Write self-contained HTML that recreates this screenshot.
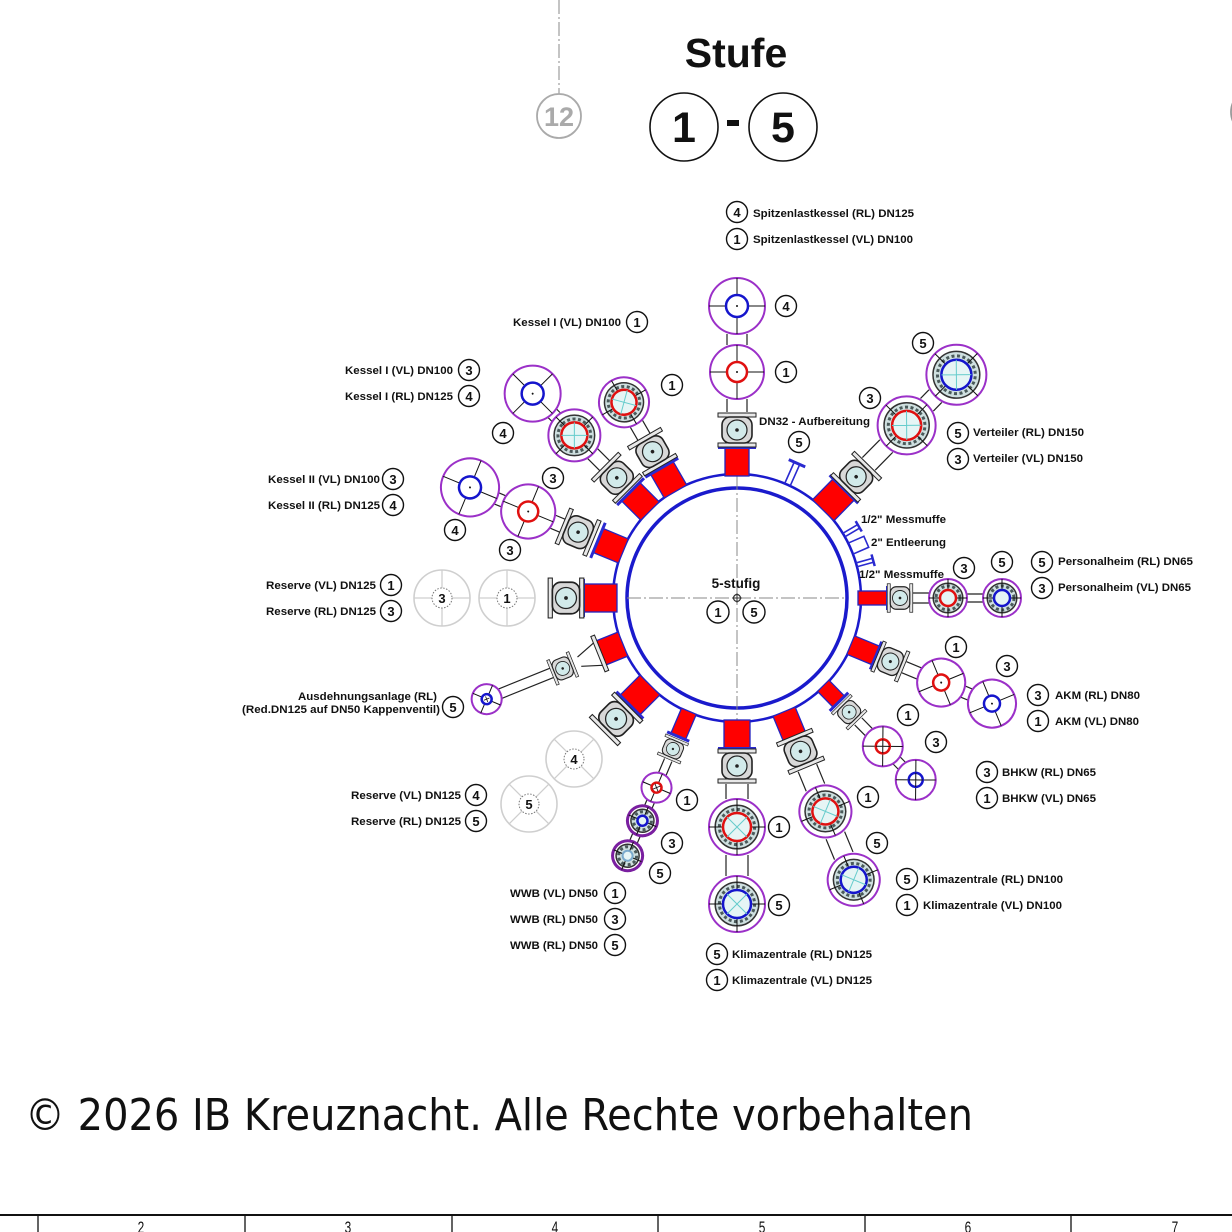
<!DOCTYPE html>
<html><head><meta charset="utf-8">
<style>
html,body{margin:0;padding:0;background:#fff;}
svg{display:block;}
.t{font-family:"Liberation Sans",Arial,sans-serif;font-weight:bold;font-size:11px;fill:#111;}
.n{font-family:"Liberation Sans",Arial,sans-serif;font-weight:bold;font-size:13px;fill:#111;text-anchor:middle;}
.lc{fill:#fff;stroke:#111;stroke-width:1.4;}
.nz{fill:#ff0000;stroke:#2323c0;stroke-width:1.3;}
.fl{fill:#2a2ad0;}
.pp{stroke:#222;stroke-width:1.2;fill:none;}
.pc{fill:#fff;stroke:#9b30c8;stroke-width:2;}
.ch{stroke:#111;stroke-width:1;fill:none;}
.rr{fill:#fff;stroke:#e01010;stroke-width:2.5;}
.rb{fill:#fff;stroke:#1515cc;stroke-width:2.5;}
.fg{fill:#cfe0e0;stroke:#333;stroke-width:1.5;}
.fb{fill:none;stroke:#4a5a5a;stroke-width:3;stroke-dasharray:3 2.5;}
.ir{fill:#e6f5f5;stroke:#e01010;stroke-width:2.5;}
.ib{fill:#e6f5f5;stroke:#1515cc;stroke-width:2.5;}
.cx{stroke:#6cc;stroke-width:1;fill:none;}
.gc{fill:#fff;stroke:#cfcfcf;stroke-width:1.6;}
.gl{stroke:#cfcfcf;stroke-width:1.3;fill:none;}
.gd{fill:#fff;stroke:#777;stroke-width:1;stroke-dasharray:1.5 1.5;}
.dd{stroke:#888;stroke-width:1;stroke-dasharray:14 3 2 3;fill:none;}
.st{stroke:#2a2ad0;stroke-width:1.6;fill:none;}
</style></head><body>
<svg width="1232" height="1232" viewBox="0 0 1232 1232" xmlns="http://www.w3.org/2000/svg">
<defs>
 <g id="v">
  <rect x="-17" y="-19" width="4" height="38" fill="#e8e8e8" stroke="#222" stroke-width="1"/>
  <rect x="13" y="-19" width="4" height="38" fill="#e8e8e8" stroke="#222" stroke-width="1"/>
  <rect x="-13" y="-15" width="26" height="30" rx="8" fill="#d8d8d8" stroke="#222" stroke-width="1.6"/>
  <circle r="10" fill="#d2eaea" stroke="#222" stroke-width="1.2"/>
  <circle r="1.8" fill="#222"/>
 </g>
</defs>

<!-- top decorations -->
<path d="M559 0V94" class="dd"/>
<circle cx="559" cy="116" r="22" fill="none" stroke="#aaa" stroke-width="1.8"/>
<text x="559" y="126" text-anchor="middle" font-family="Liberation Sans, Arial, sans-serif" font-weight="bold" font-size="27" fill="#aaa">12</text>
<circle cx="1254" cy="112" r="23" fill="none" stroke="#999" stroke-width="1.8"/>

<text x="736" y="67" text-anchor="middle" font-family="Liberation Sans, Arial, sans-serif" font-weight="bold" font-size="41" fill="#111">Stufe</text>
<circle cx="684" cy="127" r="34" fill="none" stroke="#111" stroke-width="1.6"/>
<text x="684" y="142" text-anchor="middle" font-family="Liberation Sans, Arial, sans-serif" font-weight="bold" font-size="43" fill="#111">1</text>
<rect x="727" y="120" width="12" height="6" fill="#111"/>
<circle cx="783" cy="127" r="34" fill="none" stroke="#111" stroke-width="1.6"/>
<text x="783" y="142" text-anchor="middle" font-family="Liberation Sans, Arial, sans-serif" font-weight="bold" font-size="43" fill="#111">5</text>

<!-- main ring -->
<circle cx="737" cy="598" r="124" fill="#fff" stroke="#1a1acc" stroke-width="2.5"/>
<circle cx="737" cy="598" r="110" fill="#fff" stroke="#1a1acc" stroke-width="3.5"/>
<path d="M627 598H847" class="dd"/>
<path d="M737 476V722" class="dd"/>
<circle cx="737" cy="598" r="3.5" fill="none" stroke="#333" stroke-width="1.2"/>
<path d="M732 598H742M737 593V603" stroke="#333" stroke-width="1"/>
<text x="736" y="588" text-anchor="middle" font-family="Liberation Sans, Arial, sans-serif" font-weight="bold" font-size="13.5" fill="#111">5-stufig</text>
<circle cx="718" cy="612" r="11" class="lc"/><text class="n" x="718" y="617">1</text>
<circle cx="754" cy="612" r="11" class="lc"/><text class="n" x="754" y="617">5</text>

<!-- A: Spitzenlastkessel (top) -->
<g transform="translate(737 598) rotate(-90)">
 <rect x="122" y="-12" width="28" height="24" class="nz"/>
 <rect x="149" y="-19" width="3" height="38" class="fl"/>
 <use href="#v" x="168"/>
 <path d="M186 -10H199M186 10H199M253 -10H264M253 10H264" class="pp"/>
 <circle cx="226" r="27" class="pc"/>
 <path d="M199 0H253M226 -27V27" class="ch"/>
 <circle cx="226" r="10" class="rr"/><circle cx="226" r="1" fill="#111"/>
 <circle cx="292" r="28" class="pc"/>
 <path d="M264 0H320M292 -28V28" class="ch"/>
 <circle cx="292" r="11" class="rb"/><circle cx="292" r="1" fill="#111"/>
</g>

<!-- DN32 stub -->
<g transform="translate(737 598) rotate(-66)">
 <path d="M124 -3H147M124 3H147" class="st"/>
 <rect x="146" y="-9" width="3" height="18" class="fl"/>
</g>
<!-- Messmuffe / Entleerung -->
<g transform="translate(737 598) rotate(-30.5)">
 <path d="M124 -2H141M124 2H141" class="st"/>
 <rect x="140" y="-6" width="2.5" height="12" class="fl"/>
</g>
<g transform="translate(737 598) rotate(-23.5)">
 <path d="M124 -6H141V6H124" class="st"/>
</g>
<g transform="translate(737 598) rotate(-15.5)">
 <path d="M124 -2H141M124 2H141" class="st"/>
 <rect x="140" y="-6" width="2.5" height="12" class="fl"/>
</g>

<!-- B: Kessel I VL 1 -->
<g transform="translate(737 598) rotate(-120)">
 <rect x="123" y="-13" width="27" height="26" class="nz"/>
 <rect x="149" y="-19" width="3" height="38" class="fl"/>
 <use href="#v" x="169"/>
 <path d="M186 -7H201M186 7H201" class="pp"/>
 <circle cx="226" r="25" class="pc"/>
 <circle cx="226" r="19.5" class="fg"/>
 <circle cx="226" r="15.8" class="fb"/>
 <path d="M201 0H251M226 -25V25" class="ch"/>
 <circle cx="226" r="12.5" class="ir"/>
 <path d="M217.2 -8.8L234.8 8.8M217.2 8.8L234.8 -8.8" class="cx"/>
</g>

<!-- C: Kessel I 3/4 -->
<g transform="translate(737 598) rotate(-135)">
 <rect x="123" y="-13" width="27" height="26" class="nz"/>
 <rect x="149" y="-19" width="3" height="38" class="fl"/>
 <use href="#v" x="170"/>
 <path d="M187 -7H204M187 7H204M256 -6H261M256 6H261" class="pp"/>
 <circle cx="230" r="26" class="pc"/>
 <circle cx="230" r="20.3" class="fg"/>
 <circle cx="230" r="16.4" class="fb"/>
 <path d="M204 0H256M230 -26V26" class="ch"/>
 <circle cx="230" r="13" class="ir"/>
 <path d="M220.8 -9.2L239.2 9.2M220.8 9.2L239.2 -9.2" class="cx"/>
 <circle cx="289" r="28" class="pc"/>
 <path d="M261 0H317M289 -28V28" class="ch"/>
 <circle cx="289" r="11" class="rb"/><circle cx="289" r="1" fill="#111"/>
</g>

<!-- D: Kessel II -->
<g transform="translate(737 598) rotate(-157.5)">
 <rect x="123" y="-13" width="27" height="26" class="nz"/>
 <rect x="149" y="-19" width="3" height="38" class="fl"/>
 <use href="#v" x="172"/>
 <path d="M189 -7H199M189 7H199M253 -6H260M253 6H260" class="pp"/>
 <circle cx="226" r="27" class="pc"/>
 <path d="M199 0H253M226 -27V27" class="ch"/>
 <circle cx="226" r="10" class="rr"/><circle cx="226" r="1" fill="#111"/>
 <circle cx="289" r="29" class="pc"/>
 <path d="M260 0H318M289 -29V29" class="ch"/>
 <circle cx="289" r="11" class="rb"/><circle cx="289" r="1" fill="#111"/>
</g>

<!-- E: Reserve (left horizontal) -->
<g transform="translate(737 598) rotate(180)">
 <rect x="120" y="-14" width="34" height="28" class="nz"/>
 <rect x="152" y="-19" width="3" height="38" class="fl"/>
 <use href="#v" transform="translate(171 0) scale(1.05)"/>
</g>

<!-- F: Ausdehnungsanlage -->
<g transform="translate(737 598) rotate(158)">
 <rect x="123" y="-13" width="24" height="26" class="nz"/>
 <rect x="146" y="-19" width="4" height="38" fill="#e8e8e8" stroke="#222" stroke-width="1"/>
 <path d="M150 -12L170 -5M150 12L170 5" class="pp"/>
 <use href="#v" transform="translate(188 0) scale(0.7)"/>
 <path d="M200 -5H255M200 5H255" class="pp"/>
 <circle cx="270" r="15" class="pc"/>
 <path d="M259.4 -10.6L280.6 10.6M259.4 10.6L280.6 -10.6" class="ch"/>
 <circle cx="270" r="5" class="rb"/>
 <path d="M267 0H273M270 -3V3" stroke="#111" stroke-width="0.8"/>
</g>

<!-- G: lower-left reserve valve -->
<g transform="translate(737 598) rotate(135)">
 <rect x="123" y="-14" width="28" height="28" class="nz"/>
 <rect x="150" y="-19" width="3" height="38" class="fl"/>
 <use href="#v" transform="translate(171 0) scale(1.05)"/>
</g>

<!-- H: WWB -->
<g transform="translate(737 598) rotate(113)">
 <rect x="123" y="-8" width="27" height="16" class="nz"/>
 <rect x="149" y="-12" width="3" height="24" class="fl"/>
 <use href="#v" transform="translate(164 0) scale(0.65)"/>
 <path d="M176 -4H191M176 4H191M221 -4H227M221 4H227M257 -4H265M257 4H265" class="pp"/>
 <circle cx="206" r="15" class="pc"/>
 <path d="M191 0H221M206 -15V15" class="ch"/>
 <circle cx="206" r="5" class="rr"/>
 <path d="M203 -3L209 3M203 3L209 -3" stroke="#111" stroke-width="0.8"/>
 <circle cx="242" r="15" fill="#fff" stroke="#7a1fa0" stroke-width="3"/>
 <circle cx="242" r="11.5" class="fg"/>
 <circle cx="242" r="9" class="fb"/>
 <path d="M227 0H257M242 -15V15" class="ch"/>
 <circle cx="242" r="5" class="ib"/>
 <circle cx="280" r="15" fill="#fff" stroke="#7a1fa0" stroke-width="3"/>
 <circle cx="280" r="11.5" class="fg"/>
 <circle cx="280" r="9" class="fb"/>
 <path d="M265 0H295M280 -15V15" class="ch"/>
 <circle cx="280" r="5" fill="#e6f5f5" stroke="#7aaacc" stroke-width="2"/>
</g>

<!-- I: Klimazentrale DN125 (bottom) -->
<g transform="translate(737 598) rotate(90)">
 <rect x="122" y="-13" width="28" height="26" class="nz"/>
 <rect x="149" y="-19" width="3" height="38" class="fl"/>
 <use href="#v" x="168"/>
 <path d="M186 -11H201M186 11H201M257 -11H278M257 11H278" class="pp"/>
 <circle cx="229" r="28" class="pc"/>
 <circle cx="229" r="21.8" class="fg"/>
 <circle cx="229" r="17.6" class="fb"/>
 <path d="M201 0H257M229 -28V28" class="ch"/>
 <circle cx="229" r="14" class="ir"/>
 <path d="M219.1 -9.9L238.9 9.9M219.1 9.9L238.9 -9.9" class="cx"/>
 <circle cx="306" r="28" class="pc"/>
 <circle cx="306" r="21.8" class="fg"/>
 <circle cx="306" r="17.6" class="fb"/>
 <path d="M278 0H334M306 -28V28" class="ch"/>
 <circle cx="306" r="14" class="ib"/>
 <path d="M296.1 -9.9L315.9 9.9M296.1 9.9L315.9 -9.9" class="cx"/>
</g>

<!-- J: Klimazentrale DN100 -->
<g transform="translate(737 598) rotate(67.5)">
 <rect x="123" y="-12" width="27" height="24" class="nz"/>
 <rect x="149" y="-18" width="3" height="36" class="fl"/>
 <use href="#v" x="166"/>
 <path d="M184 -10H205M184 10H205M257 -10H279M257 10H279" class="pp"/>
 <circle cx="231" r="26" class="pc"/>
 <circle cx="231" r="20.3" class="fg"/>
 <circle cx="231" r="16.4" class="fb"/>
 <path d="M205 0H257M231 -26V26" class="ch"/>
 <circle cx="231" r="13" class="ir"/>
 <path d="M221.8 -9.2L240.2 9.2M221.8 9.2L240.2 -9.2" class="cx"/>
 <circle cx="305" r="26" class="pc"/>
 <circle cx="305" r="20.3" class="fg"/>
 <circle cx="305" r="16.4" class="fb"/>
 <path d="M279 0H331M305 -26V26" class="ch"/>
 <circle cx="305" r="13" class="ib"/>
 <path d="M295.8 -9.2L314.2 9.2M295.8 9.2L314.2 -9.2" class="cx"/>
</g>

<!-- K: BHKW -->
<g transform="translate(737 598) rotate(45.5)">
 <rect x="123" y="-8" width="22" height="16" class="nz"/>
 <rect x="144" y="-13" width="3" height="26" class="fl"/>
 <use href="#v" transform="translate(160 0) scale(0.7)"/>
 <path d="M173 -5H188M173 5H188M228 -5H235M228 5H235" class="pp"/>
 <circle cx="208" r="20" class="pc"/>
 <path d="M193.9 -14.1L222.1 14.1M193.9 14.1L222.1 -14.1" class="ch"/>
 <circle cx="208" r="7" class="rr"/>
 <path d="M203 -5L213 5M203 5L213 -5" stroke="#111" stroke-width="1"/>
 <circle cx="255" r="20" class="pc"/>
 <path d="M240.9 -14.1L269.1 14.1M240.9 14.1L269.1 -14.1" class="ch"/>
 <circle cx="255" r="7" class="rb"/>
 <path d="M250 -5L260 5M250 5L260 -5" stroke="#111" stroke-width="1"/>
</g>

<!-- L: AKM -->
<g transform="translate(737 598) rotate(22.5)">
 <rect x="123" y="-10" width="27" height="20" class="nz"/>
 <rect x="149" y="-15" width="3" height="30" class="fl"/>
 <use href="#v" transform="translate(166 0) scale(0.85)"/>
 <path d="M181 -6H197M181 6H197M245 -6H252M245 6H252" class="pp"/>
 <circle cx="221" r="24" class="pc"/>
 <path d="M204 -17L238 17M204 17L238 -17" class="ch"/>
 <circle cx="221" r="8" class="rr"/><circle cx="221" r="1" fill="#111"/>
 <circle cx="276" r="24" class="pc"/>
 <path d="M259 -17L293 17M259 17L293 -17" class="ch"/>
 <circle cx="276" r="8" class="rb"/><circle cx="276" r="1" fill="#111"/>
</g>

<!-- M: Personalheim -->
<g transform="translate(737 598)">
 <rect x="121" y="-7" width="29" height="14" class="nz"/>
 <rect x="149" y="-12" width="3" height="24" class="fl"/>
 <use href="#v" transform="translate(163 0) scale(0.75)"/>
 <path d="M176 -5H192M176 5H192M230 -4H246M230 4H246" class="pp"/>
 <circle cx="211" r="19" class="pc"/>
 <circle cx="211" r="14.8" class="fg"/>
 <circle cx="211" r="12" class="fb"/>
 <path d="M192 0H230M211 -19V19" class="ch"/>
 <circle cx="211" r="8" class="ir"/>
 <circle cx="265" r="19" class="pc"/>
 <circle cx="265" r="14.8" class="fg"/>
 <circle cx="265" r="12" class="fb"/>
 <path d="M246 0H284M265 -19V19" class="ch"/>
 <circle cx="265" r="8" class="ib"/>
</g>

<!-- N: Verteiler -->
<g transform="translate(737 598) rotate(-45.5)">
 <rect x="123" y="-15" width="29" height="30" class="nz"/>
 <rect x="151" y="-20" width="3" height="40" class="fl"/>
 <use href="#v" x="170"/>
 <path d="M188 -9H213M188 9H213M271 -9H283M271 9H283" class="pp"/>
 <circle cx="242" r="29" class="pc"/>
 <circle cx="242" r="22.6" class="fg"/>
 <circle cx="242" r="18.3" class="fb"/>
 <path d="M213 0H271M242 -29V29" class="ch"/>
 <circle cx="242" r="14.5" class="ir"/>
 <path d="M231.7 -10.3L252.3 10.3M231.7 10.3L252.3 -10.3" class="cx"/>
 <circle cx="313" r="30" class="pc"/>
 <circle cx="313" r="23.4" class="fg"/>
 <circle cx="313" r="18.9" class="fb"/>
 <path d="M283 0H343M313 -30V30" class="ch"/>
 <circle cx="313" r="15" class="ib"/>
 <path d="M302.4 -10.6L323.6 10.6M302.4 10.6L323.6 -10.6" class="cx"/>
</g>

<!-- grey reserve circles -->
<circle cx="507" cy="598" r="28" class="gc"/>
<path d="M479 598H535M507 570V626" class="gl"/>
<circle cx="507" cy="598" r="10" class="gd"/><text class="n" x="507" y="603">1</text>
<circle cx="442" cy="598" r="28" class="gc"/>
<path d="M414 598H470M442 570V626" class="gl"/>
<circle cx="442" cy="598" r="10" class="gd"/><text class="n" x="442" y="603">3</text>
<circle cx="574" cy="759" r="28" class="gc"/>
<path d="M554.2 739.2L593.8 778.8M554.2 778.8L593.8 739.2" class="gl"/>
<circle cx="574" cy="759" r="10" class="gd"/><text class="n" x="574" y="764">4</text>
<circle cx="529" cy="804" r="28" class="gc"/>
<path d="M509.2 784.2L548.8 823.8M509.2 823.8L548.8 784.2" class="gl"/>
<circle cx="529" cy="804" r="10" class="gd"/><text class="n" x="529" y="809">5</text>

<!-- label circles -->
<g>
<circle cx="737" cy="212" r="10.5" class="lc"/><text class="n" x="737" y="217">4</text>
<circle cx="737" cy="239" r="10.5" class="lc"/><text class="n" x="737" y="244">1</text>
<circle cx="786" cy="306" r="10.5" class="lc"/><text class="n" x="786" y="311">4</text>
<circle cx="786" cy="372" r="10.5" class="lc"/><text class="n" x="786" y="377">1</text>
<circle cx="637" cy="322" r="10.5" class="lc"/><text class="n" x="637" y="327">1</text>
<circle cx="672" cy="385" r="10.5" class="lc"/><text class="n" x="672" y="390">1</text>
<circle cx="469" cy="370" r="10.5" class="lc"/><text class="n" x="469" y="375">3</text>
<circle cx="469" cy="396" r="10.5" class="lc"/><text class="n" x="469" y="401">4</text>
<circle cx="503" cy="433" r="10.5" class="lc"/><text class="n" x="503" y="438">4</text>
<circle cx="553" cy="478" r="10.5" class="lc"/><text class="n" x="553" y="483">3</text>
<circle cx="393" cy="479" r="10.5" class="lc"/><text class="n" x="393" y="484">3</text>
<circle cx="393" cy="505" r="10.5" class="lc"/><text class="n" x="393" y="510">4</text>
<circle cx="455" cy="530" r="10.5" class="lc"/><text class="n" x="455" y="535">4</text>
<circle cx="510" cy="550" r="10.5" class="lc"/><text class="n" x="510" y="555">3</text>
<circle cx="391" cy="585" r="10.5" class="lc"/><text class="n" x="391" y="590">1</text>
<circle cx="391" cy="611" r="10.5" class="lc"/><text class="n" x="391" y="616">3</text>
<circle cx="453" cy="707" r="10.5" class="lc"/><text class="n" x="453" y="712">5</text>
<circle cx="476" cy="795" r="10.5" class="lc"/><text class="n" x="476" y="800">4</text>
<circle cx="476" cy="821" r="10.5" class="lc"/><text class="n" x="476" y="826">5</text>
<circle cx="615" cy="893" r="10.5" class="lc"/><text class="n" x="615" y="898">1</text>
<circle cx="615" cy="919" r="10.5" class="lc"/><text class="n" x="615" y="924">3</text>
<circle cx="615" cy="945" r="10.5" class="lc"/><text class="n" x="615" y="950">5</text>
<circle cx="687" cy="800" r="10.5" class="lc"/><text class="n" x="687" y="805">1</text>
<circle cx="672" cy="843" r="10.5" class="lc"/><text class="n" x="672" y="848">3</text>
<circle cx="660" cy="873" r="10.5" class="lc"/><text class="n" x="660" y="878">5</text>
<circle cx="779" cy="827" r="10.5" class="lc"/><text class="n" x="779" y="832">1</text>
<circle cx="779" cy="905" r="10.5" class="lc"/><text class="n" x="779" y="910">5</text>
<circle cx="717" cy="954" r="10.5" class="lc"/><text class="n" x="717" y="959">5</text>
<circle cx="717" cy="980" r="10.5" class="lc"/><text class="n" x="717" y="985">1</text>
<circle cx="868" cy="797" r="10.5" class="lc"/><text class="n" x="868" y="802">1</text>
<circle cx="877" cy="843" r="10.5" class="lc"/><text class="n" x="877" y="848">5</text>
<circle cx="907" cy="879" r="10.5" class="lc"/><text class="n" x="907" y="884">5</text>
<circle cx="907" cy="905" r="10.5" class="lc"/><text class="n" x="907" y="910">1</text>
<circle cx="908" cy="715" r="10.5" class="lc"/><text class="n" x="908" y="720">1</text>
<circle cx="936" cy="742" r="10.5" class="lc"/><text class="n" x="936" y="747">3</text>
<circle cx="987" cy="772" r="10.5" class="lc"/><text class="n" x="987" y="777">3</text>
<circle cx="987" cy="798" r="10.5" class="lc"/><text class="n" x="987" y="803">1</text>
<circle cx="956" cy="647" r="10.5" class="lc"/><text class="n" x="956" y="652">1</text>
<circle cx="1007" cy="666" r="10.5" class="lc"/><text class="n" x="1007" y="671">3</text>
<circle cx="1038" cy="695" r="10.5" class="lc"/><text class="n" x="1038" y="700">3</text>
<circle cx="1038" cy="721" r="10.5" class="lc"/><text class="n" x="1038" y="726">1</text>
<circle cx="964" cy="568" r="10.5" class="lc"/><text class="n" x="964" y="573">3</text>
<circle cx="1002" cy="562" r="10.5" class="lc"/><text class="n" x="1002" y="567">5</text>
<circle cx="1042" cy="562" r="10.5" class="lc"/><text class="n" x="1042" y="567">5</text>
<circle cx="1042" cy="588" r="10.5" class="lc"/><text class="n" x="1042" y="593">3</text>
<circle cx="923" cy="343" r="10.5" class="lc"/><text class="n" x="923" y="348">5</text>
<circle cx="870" cy="398" r="10.5" class="lc"/><text class="n" x="870" y="403">3</text>
<circle cx="958" cy="433" r="10.5" class="lc"/><text class="n" x="958" y="438">5</text>
<circle cx="958" cy="459" r="10.5" class="lc"/><text class="n" x="958" y="464">3</text>
<circle cx="799" cy="442" r="10.5" class="lc"/><text class="n" x="799" y="447">5</text>
</g>

<!-- text labels -->
<text class="t" x="753" y="217" textLength="161" lengthAdjust="spacingAndGlyphs">Spitzenlastkessel (RL) DN125</text>
<text class="t" x="753" y="243" textLength="160" lengthAdjust="spacingAndGlyphs">Spitzenlastkessel (VL) DN100</text>
<text class="t" x="513" y="326" textLength="108" lengthAdjust="spacingAndGlyphs">Kessel I (VL) DN100</text>
<text class="t" x="345" y="374" textLength="108" lengthAdjust="spacingAndGlyphs">Kessel I (VL) DN100</text>
<text class="t" x="345" y="400" textLength="108" lengthAdjust="spacingAndGlyphs">Kessel I (RL) DN125</text>
<text class="t" x="268" y="483" textLength="112" lengthAdjust="spacingAndGlyphs">Kessel II (VL) DN100</text>
<text class="t" x="268" y="509" textLength="112" lengthAdjust="spacingAndGlyphs">Kessel II (RL) DN125</text>
<text class="t" x="266" y="589" textLength="110" lengthAdjust="spacingAndGlyphs">Reserve (VL) DN125</text>
<text class="t" x="266" y="615" textLength="110" lengthAdjust="spacingAndGlyphs">Reserve (RL) DN125</text>
<text class="t" x="298" y="700" textLength="139" lengthAdjust="spacingAndGlyphs">Ausdehnungsanlage (RL)</text>
<text class="t" x="242" y="713" textLength="198" lengthAdjust="spacingAndGlyphs">(Red.DN125 auf DN50 Kappenventil)</text>
<text class="t" x="351" y="799" textLength="110" lengthAdjust="spacingAndGlyphs">Reserve (VL) DN125</text>
<text class="t" x="351" y="825" textLength="110" lengthAdjust="spacingAndGlyphs">Reserve (RL) DN125</text>
<text class="t" x="510" y="897" textLength="88" lengthAdjust="spacingAndGlyphs">WWB (VL) DN50</text>
<text class="t" x="510" y="923" textLength="88" lengthAdjust="spacingAndGlyphs">WWB (RL) DN50</text>
<text class="t" x="510" y="949" textLength="88" lengthAdjust="spacingAndGlyphs">WWB (RL) DN50</text>
<text class="t" x="732" y="958" textLength="140" lengthAdjust="spacingAndGlyphs">Klimazentrale (RL) DN125</text>
<text class="t" x="732" y="984" textLength="140" lengthAdjust="spacingAndGlyphs">Klimazentrale (VL) DN125</text>
<text class="t" x="923" y="883" textLength="140" lengthAdjust="spacingAndGlyphs">Klimazentrale (RL) DN100</text>
<text class="t" x="923" y="909" textLength="139" lengthAdjust="spacingAndGlyphs">Klimazentrale (VL) DN100</text>
<text class="t" x="1002" y="776" textLength="94" lengthAdjust="spacingAndGlyphs">BHKW (RL) DN65</text>
<text class="t" x="1002" y="802" textLength="94" lengthAdjust="spacingAndGlyphs">BHKW (VL) DN65</text>
<text class="t" x="1055" y="699" textLength="85" lengthAdjust="spacingAndGlyphs">AKM (RL) DN80</text>
<text class="t" x="1055" y="725" textLength="84" lengthAdjust="spacingAndGlyphs">AKM (VL) DN80</text>
<text class="t" x="1058" y="565" textLength="135" lengthAdjust="spacingAndGlyphs">Personalheim (RL) DN65</text>
<text class="t" x="1058" y="591" textLength="133" lengthAdjust="spacingAndGlyphs">Personalheim (VL) DN65</text>
<text class="t" x="973" y="436" textLength="111" lengthAdjust="spacingAndGlyphs">Verteiler (RL) DN150</text>
<text class="t" x="973" y="462" textLength="110" lengthAdjust="spacingAndGlyphs">Verteiler (VL) DN150</text>
<text class="t" x="759" y="425" textLength="111" lengthAdjust="spacingAndGlyphs">DN32 - Aufbereitung</text>
<text class="t" x="861" y="523" textLength="85" lengthAdjust="spacingAndGlyphs">1/2" Messmuffe</text>
<text class="t" x="871" y="546" textLength="75" lengthAdjust="spacingAndGlyphs">2" Entleerung</text>
<text class="t" x="859" y="578" textLength="85" lengthAdjust="spacingAndGlyphs">1/2" Messmuffe</text>

<!-- copyright -->
<text x="25" y="1130" font-family="DejaVu Sans Condensed, DejaVu Sans, Liberation Sans, sans-serif" font-size="44" fill="#111" textLength="948" lengthAdjust="spacingAndGlyphs">© 2026 IB Kreuznacht. Alle Rechte vorbehalten</text>

<!-- bottom frame -->
<path d="M0 1215H1232" stroke="#111" stroke-width="2"/>
<path d="M38 1215V1232M245 1215V1232M452 1215V1232M658 1215V1232M865 1215V1232M1071 1215V1232" stroke="#111" stroke-width="1.3"/>
<g font-family="Liberation Sans, Arial, sans-serif" font-size="17" fill="#111" text-anchor="middle">
 <text x="141" y="1233" transform="translate(141 0) scale(0.7 1) translate(-141 0)">2</text>
 <text x="348" y="1233" transform="translate(348 0) scale(0.7 1) translate(-348 0)">3</text>
 <text x="555" y="1233" transform="translate(555 0) scale(0.7 1) translate(-555 0)">4</text>
 <text x="762" y="1233" transform="translate(762 0) scale(0.7 1) translate(-762 0)">5</text>
 <text x="968" y="1233" transform="translate(968 0) scale(0.7 1) translate(-968 0)">6</text>
 <text x="1175" y="1233" transform="translate(1175 0) scale(0.7 1) translate(-1175 0)">7</text>
</g>
</svg>
</body></html>
